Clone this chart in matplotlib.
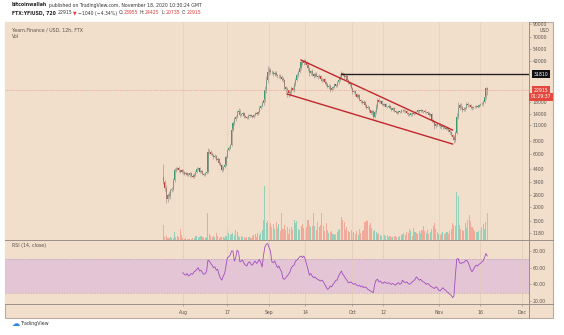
import numpy as np
import matplotlib
matplotlib.use("Agg")
import matplotlib.pyplot as plt
from matplotlib.patches import Rectangle

# ---- data (YFI/USD, 12h candles from 2020-07-25) ----
start = np.datetime64("2020-07-25T00:00")
first_open = 3750
closes = [
    3350, 3000, 2350, 2600, 2500, 2860, 2950, 3500, 4340, 4450,
    4530, 4300, 4170, 4340, 4150, 4000, 4100, 3950, 3900, 4050,
    3850, 3750, 3950, 4170, 4400, 4530, 4170, 4250, 4000, 3950,
    4100, 4170, 6300, 6320, 6100, 5940, 5700, 5800, 5350, 5500,
    5000, 4820, 4340, 4600, 4820, 5700, 6590, 6900, 7310, 9990,
    11500, 12500, 13200, 14530, 14800, 13650, 13900, 14230, 13500, 13200,
    12820, 13400, 13650, 13300, 13100, 13700, 14230, 14000, 14530, 15800,
    16500, 17500, 18650, 22900, 28270, 33200, 34800, 33500, 33200, 32000,
    33000, 31400, 30500, 31000, 30200, 29000, 28270, 24470, 23500, 22900,
    21500, 21890, 24000, 23200, 26000, 28500, 31400, 33500, 36100, 41000,
    40000, 42000, 41000, 39000, 36100, 32750, 33900, 32000, 31000, 32200,
    30800, 30000, 30900, 28800, 28000, 28900, 27100, 25800, 24470, 25100,
    23000, 23900, 24470, 25800, 25200, 27100, 28500, 30200, 32750, 31500,
    29900, 30600, 28600, 27100, 26000, 24000, 21890, 22600, 21000, 20000,
    20600, 18650, 18200, 17600, 18000, 16800, 15800, 16200, 15000, 14230,
    14700, 13100, 14500, 16130, 18650, 17900, 18300, 17300, 16820, 17200,
    16300, 16130, 16600, 15800, 15300, 15700, 14900, 14500, 14230, 14700,
    14530, 15000, 15150, 14700, 14900, 14230, 13900, 13650, 14100, 13900,
    14230, 14600, 14530, 15000, 14800, 15150, 14700, 14900, 14400, 14500,
    14230, 13700, 13900, 12400, 11800, 10850, 11300, 11090, 11200, 10850,
    10600, 10800, 10420, 10300, 10500, 9990, 9500, 9000, 8700, 8100,
    9380, 13100, 15800, 16820, 16000, 15150, 15600, 15800, 17300, 16700,
    16820, 16100, 15800, 16200, 16130, 16500, 16300, 16820, 17300, 17100,
    18000, 19700, 23955, 22915,
]
# wick lengths in % beyond the body
wick_up = [
    30, 5, 6, 4, 8, 3, 4, 6, 5, 4, 3, 4, 2, 3, 2, 3, 2, 2, 3, 2,
    2, 3, 3, 2, 4, 3, 2, 2, 3, 2, 2, 3, 8, 6, 4, 3, 3, 5, 3, 3,
    2, 3, 2, 3, 3, 4, 3, 4, 3, 6, 5, 4, 4, 5, 6, 4, 3, 3, 2, 2,
    2, 3, 2, 2, 3, 2, 2, 3, 3, 4, 3, 4, 5, 8, 10, 15, 6, 4, 5, 3,
    4, 3, 3, 4, 3, 3, 4, 3, 3, 4, 3, 5, 4, 3, 5, 4, 5, 4, 3, 5,
    4, 5, 4, 3, 4, 3, 3, 4, 3, 3, 3, 2, 3, 2, 3, 2, 3, 2, 3, 3,
    3, 3, 2, 3, 2, 3, 3, 4, 4, 3, 3, 2, 3, 2, 3, 2, 3, 2, 2, 3,
    2, 3, 2, 2, 3, 2, 2, 3, 2, 2, 3, 4, 5, 6, 5, 4, 3, 3, 2, 3,
    2, 2, 3, 2, 2, 3, 2, 2, 3, 2, 2, 3, 2, 2, 3, 2, 2, 3, 2, 2,
    3, 2, 2, 3, 2, 3, 2, 2, 3, 2, 2, 3, 2, 3, 2, 3, 2, 3, 2, 3,
    2, 3, 2, 2, 3, 2, 2, 3, 2, 3, 4, 8, 13, 5, 4, 3, 4, 3, 4, 3,
    3, 2, 3, 2, 3, 2, 3, 3, 2, 3, 3, 4, 2, 2,
]
wick_dn = [
    4, 6, 8, 5, 4, 5, 3, 4, 3, 4, 3, 4, 3, 2, 3, 2, 3, 2, 2, 3,
    2, 3, 2, 3, 3, 2, 3, 2, 3, 2, 3, 2, 3, 4, 3, 3, 4, 3, 3, 4,
    3, 3, 4, 3, 2, 3, 3, 2, 3, 3, 3, 4, 3, 3, 5, 4, 3, 3, 4, 3,
    3, 2, 3, 2, 3, 2, 3, 2, 3, 3, 3, 3, 3, 4, 5, 6, 6, 5, 4, 4,
    4, 3, 4, 3, 4, 5, 4, 6, 7, 13, 8, 5, 4, 3, 4, 3, 3, 4, 3, 3,
    4, 3, 4, 5, 5, 6, 4, 3, 4, 3, 3, 3, 2, 3, 2, 3, 3, 4, 3, 4,
    5, 3, 3, 2, 3, 2, 3, 2, 3, 3, 3, 4, 3, 3, 4, 3, 3, 2, 3, 3,
    3, 2, 3, 3, 2, 3, 3, 2, 3, 3, 4, 6, 3, 3, 4, 3, 3, 2, 3, 2,
    2, 3, 2, 2, 3, 2, 3, 2, 3, 2, 2, 2, 3, 2, 3, 2, 3, 2, 2, 3,
    2, 3, 2, 2, 3, 2, 2, 3, 2, 3, 2, 3, 3, 4, 3, 5, 3, 2, 3, 3,
    3, 3, 2, 3, 3, 4, 3, 3, 4, 5, 4, 3, 4, 4, 3, 5, 3, 4, 3, 3,
    3, 3, 4, 3, 3, 2, 3, 2, 3, 2, 3, 3, 3, 10,
]
volume = [
    150, 30, 40, 25, 20, 30, 20, 25, 80, 35, 45, 30, 110, 50, 20, 15, 20, 10, 15, 10,
    15, 20, 25, 40, 45, 35, 30, 40, 35, 30, 25, 30, 270, 60, 40, 30, 40, 35, 70, 40,
    25, 30, 35, 30, 20, 40, 100, 70, 50, 60, 70, 50, 100, 80, 45, 35, 40, 30, 35, 25,
    30, 35, 30, 25, 40, 50, 60, 30, 75, 55, 70, 100, 200, 540, 170, 190, 150, 170, 130, 160,
    110, 180, 120, 160, 90, 270, 110, 150, 100, 130, 60, 110, 130, 100, 200, 170, 190, 110, 100, 140,
    160, 120, 100, 130, 200, 150, 130, 140, 270, 140, 100, 180, 130, 150, 270, 140, 90, 170, 100, 70,
    80, 90, 60, 50, 60, 80, 100, 110, 230, 200, 180, 100, 130, 90, 80, 100, 70, 80, 60, 90,
    50, 110, 70, 90, 100, 180, 200, 190, 150, 170, 120, 90, 100, 80, 60, 70, 50, 40, 60, 50,
    40, 50, 30, 40, 35, 30, 40, 45, 30, 35, 40, 50, 60, 70, 50, 80, 70, 110, 90, 40,
    120, 80, 70, 60, 90, 70, 100, 140, 90, 70, 100, 60, 80, 110, 140, 170, 110, 80, 60, 50,
    70, 80, 60, 70, 80, 60, 90, 110, 170, 150, 140, 480, 440, 150, 110, 100, 90, 170, 120, 200,
    250, 190, 130, 110, 90, 80, 80, 90, 100, 130, 160, 110, 180, 270,
]
rsi_start = 14
rsi_values = [
    54, 52, 51, 53, 50, 51,
    53, 52, 55, 56, 58, 60, 56, 57, 54, 52,
    53, 55, 69, 68, 65, 63, 60, 61, 57, 58,
    52, 47, 45, 50, 53, 62, 72, 73, 75, 80,
    80, 68, 72, 81, 79, 67, 68, 69, 65, 63,
    62, 66, 67, 64, 63, 66, 68, 65, 67, 70,
    66, 61, 75, 85, 88, 89, 84, 80, 67, 66,
    68, 64, 60, 62, 58, 55, 47, 46, 48, 50,
    52, 55, 60, 62, 63, 68, 69, 71, 73, 74,
    72, 74, 70, 64, 58, 51, 53, 50, 48, 49,
    47, 46, 45, 44, 45, 43, 40, 37, 34, 35,
    38, 37, 40, 42, 45, 45, 50, 53, 56, 52,
    50, 47, 45, 42, 42, 43, 41, 40, 41, 39,
    38, 39, 37, 38, 36, 37, 36, 34, 33, 32,
    31, 30, 40, 45, 46, 43, 44, 42, 41, 43,
    42, 41, 42, 41, 40, 41, 40, 39, 41, 42,
    40, 41, 45, 43, 42, 43, 41, 40, 41, 43,
    44, 46, 49, 47, 45, 46, 44, 43, 42, 40,
    41, 40, 38, 37, 36, 35, 37, 36, 33, 32,
    34, 36, 34, 33, 31, 30, 28, 27, 24, 26,
    50, 70, 71, 66, 65, 66, 66, 68, 69, 67,
    63, 58, 55, 58, 61, 63, 62, 64, 65, 67,
    68, 72, 77, 74,
]

price_ticks = [90000, 70000, 54000, 42000, 18000, 14000, 11000, 8000, 6000,
               4400, 3400, 2600, 2000, 1500, 1180]
rsi_ticks = [80, 60, 40, 20]
time_ticks = ["2020-08-01", "2020-08-17", "2020-09-01", "2020-09-14", "2020-10-01",
              "2020-10-12", "2020-11-01", "2020-11-16", "2020-12-01"]
time_labels = ["Aug", "17", "Sep", "14", "Oct", "12", "Nov", "16", "Dec"]

upper_line = (["2020-09-12T12:00", "2020-11-06T00:00"], [42950, 9990])
lower_line = (["2020-09-07T12:00", "2020-11-06T00:00"], [21150, 7460])
resist_start, resist_price = "2020-09-27T00:00", 31810
last_price = 22915

W, H = 564, 335
BG = "#f1decb"


def box(l, t, r, b):
    return [l / W, 1 - b / H, (r - l) / W, (b - t) / H]


def days(s):
    return (np.datetime64(s) - start) / np.timedelta64(1, "D")


c = np.array(closes, float)
o = np.array([first_open] + closes[:-1], float)
hi = np.maximum(o, c) * (1 + np.array(wick_up) / 100)
lo = np.minimum(o, c) * (1 - np.array(wick_dn) / 100)
x = np.arange(len(c)) * 0.5
rising = c >= o
xlim = (-57.0, 131.5)

fig = plt.figure(figsize=(W / 100, H / 100), dpi=100, facecolor="white")
fig.patches.append(Rectangle((5 / W, 1 - 318 / H), 548 / W, 296 / H, transform=fig.transFigure,
                             facecolor=BG, edgecolor="#b9ada2", lw=0.8, zorder=-5))

# ---- price pane ----
vol = fig.add_axes(box(5, 22, 529, 240))
main = vol.twinx()
vol.set_facecolor(BG)
vcol = np.where(rising, "#94cfba", "#f2ab9b")
vol.bar(x, volume, width=0.38, color=vcol, lw=0)
vol.set_ylim(0, 540 * 218 / 54)
vol.set_xlim(*xlim)
vol.set_yticks([])
vol.set_xticks([days(t) for t in time_ticks])
vol.tick_params(axis="x", length=0, labelbottom=False)
vol.grid(axis="x", color="#e7d1be", lw=0.5)
for s in vol.spines.values():
    s.set_visible(False)

main.set_yscale("log")
main.set_ylim(1010, 94800)
main.set_xlim(*xlim)
ccol = np.where(rising, "#3f9a74", "#b8433a")
main.vlines(x, lo, hi, color="#a39a90", lw=0.5)
main.bar(x, np.abs(c - o), bottom=np.minimum(o, c), width=0.42, color=ccol, lw=0)
main.plot([days(d) for d in upper_line[0]], upper_line[1], color="#c1272d", lw=1.0)
main.plot([days(d) for d in lower_line[0]], lower_line[1], color="#c1272d", lw=1.0)
main.plot([days(resist_start), xlim[1]], [resist_price] * 2, color="#222222", lw=1.0)
main.axhline(last_price, color="#e8897f", lw=0.5, ls=(0, (1, 1.5)))
main.set_yticks(price_ticks)
main.set_yticklabels([str(v) for v in price_ticks])
main.yaxis.set_minor_locator(matplotlib.ticker.NullLocator())
main.tick_params(axis="y", labelsize=3.3, length=1.5, width=0.4, color="#8a8078",
                 labelcolor="#5a5550", pad=1)
for s in main.spines.values():
    s.set_visible(False)

# ---- RSI pane ----
ax = fig.add_axes(box(5, 240, 529, 304))
ax.set_facecolor(BG)
ax.set_xlim(*xlim)
ax.set_ylim(16.4, 93.2)
ax.axhspan(30, 70, color="#e3c5d6", lw=0)
for v in (30, 70):
    ax.axhline(v, color="#b7a2ad", lw=0.4, ls=(0, (3, 2)))
ax.plot(x[rsi_start:rsi_start + len(rsi_values)], rsi_values, color="#a24dbf", lw=0.6)
ax.set_xticks([days(t) for t in time_ticks])
ax.set_xticklabels(time_labels)
ax.grid(axis="x", color="#e2cbb8", lw=0.5)
ax.yaxis.tick_right()
ax.set_yticks(rsi_ticks)
ax.set_yticklabels(["%.2f" % v for v in rsi_ticks])
ax.tick_params(axis="y", labelsize=3.3, length=1.5, width=0.4, color="#8a8078",
               labelcolor="#5a5550", pad=1)
ax.tick_params(axis="x", labelsize=3.3, length=1.5, width=0.4, color="#8a8078",
               labelcolor="#5a5550", pad=3)
for s in ax.spines.values():
    s.set_visible(False)


# separators
def hline(y, x0=5, x1=553):
    fig.add_artist(plt.Line2D([x0 / W, x1 / W], [1 - y / H] * 2, color="#9b9088", lw=0.7))


hline(240)
hline(304)
fig.add_artist(plt.Line2D([529 / W] * 2, [1 - 22 / H, 1 - 318 / H], color="#9b9088", lw=0.7))


def ftext(px, py, s, **kw):
    kw.setdefault("va", "center")
    return fig.text(px / W, 1 - py / H, s, **kw)


# price labels on the axis
ftext(541, 74, "31810", fontsize=3.3, color="white", ha="center",
      bbox=dict(boxstyle="square,pad=0.35", fc="#111111", ec="none"))
ftext(541, 90, "22915", fontsize=3.3, color="white", ha="center",
      bbox=dict(boxstyle="square,pad=0.35", fc="#e2483d", ec="none"))
ftext(541, 97, "01:29:37", fontsize=3.3, color="white", ha="center",
      bbox=dict(boxstyle="square,pad=0.3", fc="#e2483d", ec="none"))
ftext(549, 30, "USD", fontsize=3.3, color="#5a5550", ha="right")

# legends inside the panes
ftext(12, 30, "Yearn.Finance / USD, 12h, FTX", fontsize=3.4, color="#5a5048")
ftext(12, 37, "Vol", fontsize=3.4, color="#5a5048")
ftext(12, 246, "RSI (14, close)", fontsize=3.4, color="#5a5048")

# header: pieces laid out left to right, gap in px after each piece
r = fig.canvas.get_renderer()


def seq(px, py, parts, size=3.3):
    for s, col, wt, gap in parts:
        t = ftext(px, py, s, fontsize=size, color=col, fontweight=wt)
        px += t.get_window_extent(r).width + gap


red = "#e53935"
dark = "#333333"
seq(12, 5, [("bitcoinwallah", "#222222", "bold", 1.6),
            ("published on TradingView.com, November 18, 2020 10:30:24 GMT", dark, "normal", 0)])
seq(12, 13, [("FTX:YFIUSD, 720", "#222222", "bold", 1.6), ("22915", dark, "normal", 1.2),
             ("\u25bc", red, "normal", 1.2), ("\u22121040 (\u22124.34%)", dark, "normal", 1.6),
             ("O:", dark, "normal", 0), ("23955", red, "normal", 1.6),
             ("H:", dark, "normal", 0), ("24425", red, "normal", 1.6),
             ("L:", dark, "normal", 0), ("20735", red, "normal", 1.6),
             ("C:", dark, "normal", 0), ("22915", red, "normal", 0)])

# footer logo
ftext(16, 323, "\u2601", fontsize=6, color="#2a8be6", ha="center")
ftext(21, 323, "TradingView", fontsize=3.4, color="#333333")

fig.savefig("out.png", dpi=100, facecolor="white")
